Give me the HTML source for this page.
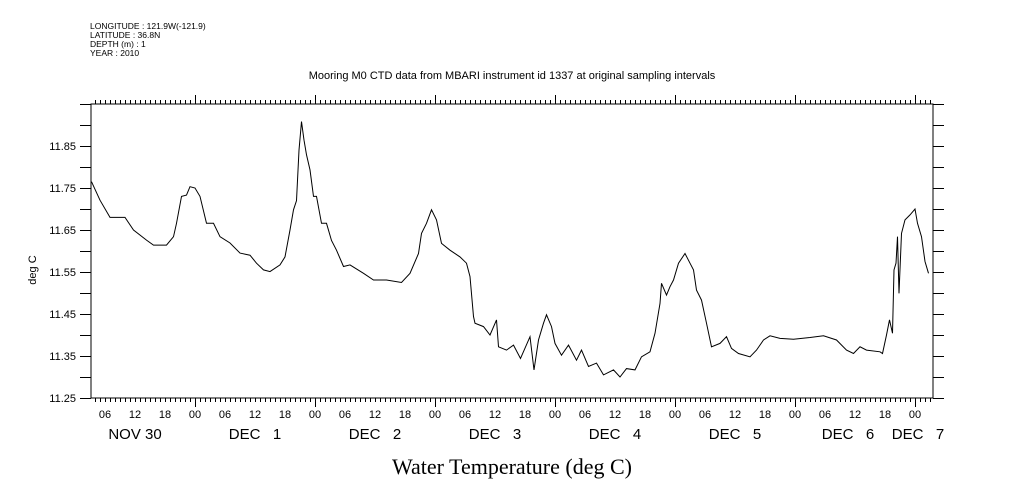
<!DOCTYPE html>
<html><head><meta charset="utf-8"><style>
html,body{margin:0;padding:0;background:#fff;}
svg{display:block;}
text{font-family:"Liberation Sans",sans-serif;fill:#000;}
</style></head><body>
<svg id="chart" width="1009" height="504" viewBox="0 0 1009 504" xmlns="http://www.w3.org/2000/svg">
<g font-size="8.5">
<text x="90" y="29">LONGITUDE : 121.9W(-121.9)</text>
<text x="90" y="38">LATITUDE : 36.8N</text>
<text x="90" y="47">DEPTH (m) : 1</text>
<text x="90" y="56">YEAR : 2010</text>
</g>
<text x="512" y="79" font-size="11" text-anchor="middle">Mooring M0 CTD data from MBARI instrument id 1337 at original sampling intervals</text>
<text x="36" y="270" font-size="11" text-anchor="middle" transform="rotate(-90 36 270)">deg C</text>
<text x="512" y="474" font-size="22" text-anchor="middle" style="font-family:'Liberation Serif',serif">Water Temperature (deg C)</text>
<rect x="91" y="104" width="842" height="294" fill="none" stroke="#000" stroke-width="1"/>
<g id="axes"></g>
<path id="line" fill="none" stroke="#000" stroke-width="1"/>
</svg>
<script>
// hours since Nov 30 00:00
const hours=[3.3,5,7,8.3,10,11.7,14.3,15.7,18.3,19.7,20.3,21.3,22.3,23,24,25,26.3,27.7,29,31,33,35,36.3,37.7,39,41,42,43,43.7,44.3,44.8,45.3,45.8,46.3,47,47.7,48.3,49.3,50.3,51.3,52.3,53.7,55,57.7,59.7,62.3,65.3,67,68.7,69.3,70.3,71.3,72.3,73.3,75,77,78.3,79,79.7,80,81.7,83,84.3,84.7,86.3,87.7,89.1,91,91.8,92.7,93.7,94.3,95.3,96,97.3,98.7,100.3,101.3,102.7,104.3,105.7,107.7,109,110.3,112,113.3,115,116,117,117.3,118.3,119,119.7,120.7,122,123,123.7,124.3,125.3,126.3,127.3,129,130.3,131.3,132.7,135,136.3,137.7,139,141,143.7,147,149.7,152.3,154.3,155.7,157,158.3,161,161.5,162.3,162.9,163.5,163.8,164.2,164.5,164.8,165.3,166,167,168,168.5,169.3,170,170.7];
const temps=[11.765,11.721,11.68,11.68,11.68,11.65,11.626,11.614,11.614,11.634,11.666,11.73,11.733,11.753,11.75,11.73,11.666,11.666,11.634,11.619,11.595,11.59,11.571,11.555,11.551,11.567,11.586,11.65,11.698,11.72,11.84,11.908,11.864,11.829,11.793,11.73,11.73,11.666,11.666,11.625,11.602,11.563,11.567,11.547,11.531,11.531,11.525,11.547,11.594,11.642,11.666,11.698,11.674,11.618,11.602,11.586,11.571,11.539,11.444,11.428,11.42,11.40,11.436,11.372,11.364,11.376,11.344,11.396,11.317,11.388,11.428,11.448,11.42,11.38,11.352,11.376,11.34,11.364,11.325,11.333,11.305,11.317,11.30,11.32,11.317,11.348,11.36,11.404,11.475,11.523,11.495,11.515,11.531,11.571,11.594,11.571,11.555,11.507,11.483,11.428,11.372,11.38,11.396,11.368,11.356,11.348,11.364,11.388,11.398,11.392,11.39,11.394,11.398,11.388,11.364,11.356,11.372,11.364,11.36,11.356,11.40,11.436,11.404,11.555,11.571,11.634,11.499,11.642,11.674,11.686,11.70,11.666,11.634,11.575,11.547];
const yTicks=[11.25,11.35,11.45,11.55,11.65,11.75,11.85];
const dateLabels=["NOV 30","DEC   1","DEC   2","DEC   3","DEC   4","DEC   5","DEC   6"];
const lastDateLabel="DEC   7";

const X0=91,X1=933,Y0=398,Y1=104;
const xS=h=>195+(h-24)*5;
const yS=v=>Y0-(v-11.25)*420;
const NS="http://www.w3.org/2000/svg";
const ax=document.getElementById('axes');
function mk(tag,at){const e=document.createElementNS(NS,tag);for(const k in at)e.setAttribute(k,at[k]);ax.appendChild(e);return e;}
let d="";
for(let v=11.25;v<=11.96;v+=0.05){
  const y=Math.round(yS(v))+0.5;
  if(y<Y1)continue;
  d+=`M${X0-11},${y}H${X0}M${X1},${y}H${X1+11}`;
}
const hStart=Math.ceil(3.2),hEnd=Math.floor(171.8);
for(let h=hStart;h<=hEnd;h++){
  const x=Math.round(xS(h))+0.5;
  const L=(h%24===0)?9:4;
  d+=`M${x},${Y1}V${Y1-L}M${x},${Y0}V${Y0+L}`;
}
const tk=mk('path',{d:d,stroke:'#000','stroke-width':1,fill:'none'});


yTicks.forEach(v=>{
  const t=mk('text',{x:76,y:yS(v)+4,'font-size':11,'text-anchor':'end'});
  
  
  t.textContent=v.toFixed(2);
});
for(let h=6;h<=hEnd;h+=6){
  const t=mk('text',{x:xS(h),y:418,'font-size':11,'text-anchor':'middle'});
  
  
  t.textContent=String(h%24).padStart(2,'0');
}
dateLabels.forEach((s,i)=>{
  const t=mk('text',{x:xS(12+24*i)+(i===6?-7:0),y:439,'font-size':15,'text-anchor':'middle'});
  t.style.whiteSpace='pre';
  
  
  t.textContent=s;
});
const t7=mk('text',{x:918,y:439,'font-size':15,'text-anchor':'middle'});
t7.style.whiteSpace='pre';


t7.textContent=lastDateLabel;
let p="";
hours.forEach((h,i)=>{p+=(i?"L":"M")+xS(h).toFixed(1)+","+yS(temps[i]).toFixed(1);});
document.getElementById('line').setAttribute('d',p);
</script>
</body></html>
